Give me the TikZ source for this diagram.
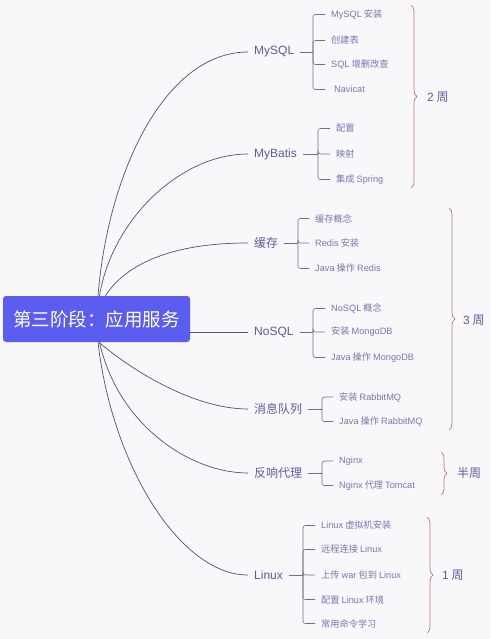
\documentclass[tikz,border=0pt]{standalone}
\usepackage{fontspec}
\setmainfont{Noto Sans CJK SC}
\newfontfamily\lat{Liberation Sans}
\newcommand{\la}[1]{{\lat #1}}
\usetikzlibrary{decorations.pathreplacing}
\definecolor{bg}{HTML}{F8F8FA}
\definecolor{rootc}{HTML}{5B5DF0}
\definecolor{curvec}{HTML}{52526E}
\definecolor{lvone}{HTML}{5C5C9E}
\definecolor{lvtwo}{HTML}{7676B6}
\definecolor{brkc}{HTML}{6E6E96}
\definecolor{bracec}{HTML}{B27B80}
\tikzset{
  rootbox/.style={draw=none,fill=rootc,rounded corners=3pt,text=white,
    minimum width=187pt,minimum height=46pt,inner sep=0pt,
    font=\fontsize{18.5}{20}\selectfont},
  topic/.style={anchor=west,inner xsep=6pt,inner ysep=2pt,text=lvone,
    font=\fontsize{12}{14}\selectfont},
  leaf/.style={anchor=west,inner xsep=6pt,inner ysep=1pt,text=lvtwo,
    font=\fontsize{9.2}{11}\selectfont},
  mainline/.style={draw=curvec,line width=0.7pt},
  brk/.style={draw=brkc,line width=0.6pt,rounded corners=2.5pt},
  bracestyle/.style={draw=bracec,line width=0.7pt,decorate,
    decoration={brace,amplitude=6pt}},
  weeklbl/.style={anchor=west,inner sep=0pt,text=lvone,
    font=\fontsize{12}{14}\selectfont}
}
\begin{document}
\begin{tikzpicture}[x=1pt,y=-1pt]
\fill[bg] (0,0) rectangle (490,639);
\useasboundingbox (0,0) rectangle (490,639);

% root
\node[rootbox] (root) at (96.5,319) {第三阶段：应用服务};

% level one
\node[topic] (mysql) at (248,52) {\la{MySQL}};
\node[topic] (mybatis) at (248,154) {\la{MyBatis}};
\node[topic] (cache) at (248,243) {缓存};
\node[topic] (nosql) at (248,332) {\la{NoSQL}};
\node[topic] (mq) at (248,409) {消息队列};
\node[topic] (proxy) at (248,473) {反响代理};
\node[topic] (linux) at (248,575) {\la{Linux}};

% main curves
\draw[mainline] ([xshift=1.5pt]root.north) .. controls (108,172) and (165,52) .. (mysql.west);
\draw[mainline] ([xshift=3pt]root.north) .. controls (112,220) and (180,154) .. (mybatis.west);
\draw[mainline] ([xshift=9pt]root.north) .. controls (125,265) and (170,243) .. (cache.west);
\draw[mainline] (root.east |- nosql.west) -- (nosql.west);
\draw[mainline] ([xshift=2.5pt]root.south) .. controls (125,365) and (190,409) .. (mq.west);
\draw[mainline] ([xshift=3pt]root.south) .. controls (118,425) and (190,473) .. (proxy.west);
\draw[mainline] ([xshift=1.5pt]root.south) .. controls (112,465) and (180,575) .. (linux.west);

% MySQL children
\coordinate (bmysql) at (313,52);
\node[leaf] (m1) at (325,14.5) {\la{MySQL} 安装};
\node[leaf] (m2) at (325,40.5) {创建表};
\node[leaf] (m3) at (325,64.5) {\la{SQL} 增删改查};
\node[leaf] (m4) at (325,89.5) {\hspace*{3pt}\la{Navicat}};
\draw[brk] (mysql.east) -- (bmysql);
\foreach \c in {m1,m2,m3,m4} \draw[brk] (bmysql) |- (\c.west);

% MyBatis children
\coordinate (bmybatis) at (318,154);
\node[leaf] (b1) at (330,128.5) {配置};
\node[leaf] (b2) at (330,154) {映射};
\node[leaf] (b3) at (330,179.5) {集成 \la{Spring}};
\draw[brk] (mybatis.east) -- (bmybatis);
\foreach \c in {b1,b2,b3} \draw[brk] (bmybatis) |- (\c.west);

% cache children
\coordinate (bcache) at (298,243);
\node[leaf] (c1) at (309,218.5) {缓存概念};
\node[leaf] (c2) at (309,243) {\la{Redis} 安装};
\node[leaf] (c3) at (309,268.5) {\la{Java} 操作 \la{Redis}};
\draw[brk] (cache.east) -- (bcache);
\foreach \c in {c1,c2,c3} \draw[brk] (bcache) |- (\c.west);

% NoSQL children
\coordinate (bnosql) at (313,332);
\node[leaf] (n1) at (325,308.5) {\la{NoSQL} 概念};
\node[leaf] (n2) at (325,332) {安装 \la{MongoDB}};
\node[leaf] (n3) at (325,357.5) {\la{Java} 操作 \la{MongoDB}};
\draw[brk] (nosql.east) -- (bnosql);
\foreach \c in {n1,n2,n3} \draw[brk] (bnosql) |- (\c.west);

% MQ children
\coordinate (bmq) at (322,409);
\node[leaf] (q1) at (333,397) {安装 \la{RabbitMQ}};
\node[leaf] (q2) at (333,421.5) {\la{Java} 操作 \la{RabbitMQ}};
\draw[brk] (mq.east) -- (bmq);
\foreach \c in {q1,q2} \draw[brk] (bmq) |- (\c.west);

% proxy children
\coordinate (bproxy) at (322,473);
\node[leaf] (p1) at (333,461) {\la{Nginx}};
\node[leaf] (p2) at (333,485.5) {\la{Nginx} 代理 \la{Tomcat}};
\draw[brk] (proxy.east) -- (bproxy);
\foreach \c in {p1,p2} \draw[brk] (bproxy) |- (\c.west);

% Linux children
\coordinate (blinux) at (303,575);
\node[leaf] (l1) at (315,525.5) {\la{Linux} 虚拟机安装};
\node[leaf] (l2) at (315,549.5) {远程连接 \la{Linux}};
\node[leaf] (l3) at (315,575) {上传 \la{war} 包到 \la{Linux}};
\node[leaf] (l4) at (315,599.5) {配置 \la{Linux} 环境};
\node[leaf] (l5) at (315,623.5) {常用命令学习};
\draw[brk] (linux.east) -- (blinux);
\foreach \c in {l1,l2,l3,l4,l5} \draw[brk] (blinux) |- (\c.west);

% braces and week labels
\draw[bracestyle] (411,5) -- (411,188);
\node[weeklbl] (w1) at (427,97) {\la{2} 周};
\draw[bracestyle] (449,208) -- (449,430);
\node[weeklbl] (w2) at (463,320) {\la{3} 周};
\draw[bracestyle] (441,452) -- (441,495);
\node[weeklbl] (w3) at (457,473) {半周};
\draw[bracestyle] (427,517) -- (427,633);
\node[weeklbl] (w4) at (442,575) {\la{1} 周};
\end{tikzpicture}
\end{document}
